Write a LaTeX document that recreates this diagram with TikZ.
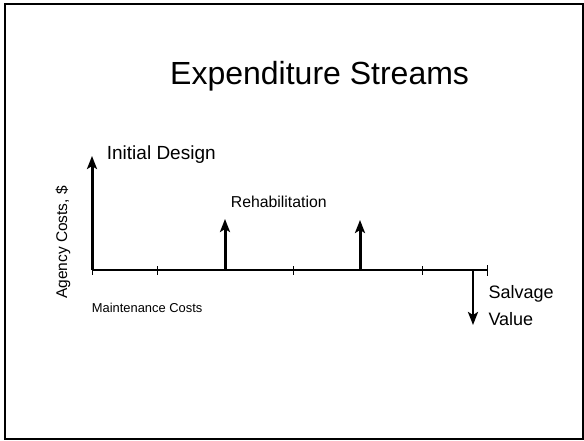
\documentclass[tikz,border=0pt]{standalone}
\usepackage{fontspec}
\setmainfont{Liberation Sans}
\usetikzlibrary{arrows.meta}
\begin{document}
\begin{tikzpicture}[x=1pt,y=-1pt,
  lbl/.style={inner sep=0pt,anchor=base west,text=black},
  axisline/.style={line width=2pt,black},
  tickmark/.style={line width=1pt,black},
  flow/.style={line width=3pt,black,-{Stealth[length=13pt,width=10pt,inset=3pt]}},
  fs/.style={font=\fontsize{#1}{#1}\selectfont}]
  \useasboundingbox (0,0) rectangle (584,441);
  % slide frame
  \draw[line width=2pt] (5,4) rectangle (583,439);

  % title
  \node[lbl,fs=32] (title) at (170,85) {Expenditure Streams};

  % axes anchors
  \coordinate (O) at (92,270);
  \coordinate (ytop) at (92,156);
  \coordinate (xend) at (487,270);
  \coordinate (r1) at (225,270);
  \coordinate (r1t) at (225,219);
  \coordinate (r2) at (360,270);
  \coordinate (r2t) at (360,220);
  \coordinate (sv) at (473,271);
  \coordinate (svt) at (473,325);

  % time axis with ticks
  \draw[axisline] (O) -- (xend);
  \foreach \tx in {92,157,293,422} {
    \draw[tickmark] (\tx,266) -- (\tx,275);
  }
  \draw[tickmark] (487,265) -- (487,276);

  % cost arrows
  \draw[flow] (O) -- (ytop);
  \draw[flow] (r1) -- (r1t);
  \draw[flow] (r2) -- (r2t);
  \draw[flow,line width=2.6pt] (sv) -- (svt);

  % labels
  \node[lbl,fs=19] (initial) at (106.7,160) {Initial Design};
  \node[lbl,fs=15.8] (rehab) at (230.7,207.5) {Rehabilitation};
  \node[inner sep=0pt,anchor=base,rotate=90,fs=15.5] (ylabel) at (67,242.5) {Agency Costs, \$};
  \node[lbl,fs=12.9] (maint) at (91.7,312.7) {Maintenance Costs};
  \node[lbl,fs=18] (salvage) at (488.3,298.3) {Salvage};
  \node[lbl,fs=18] (value) at (488.3,325) {Value};
\end{tikzpicture}
\end{document}
